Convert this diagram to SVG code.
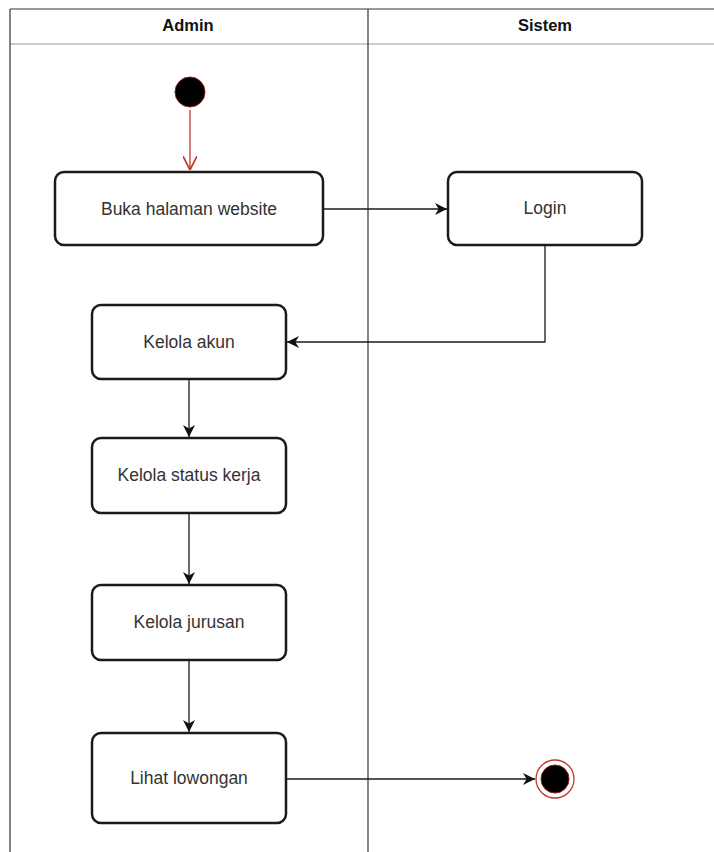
<svg xmlns="http://www.w3.org/2000/svg" width="714" height="852" viewBox="0 0 714 852">
<style>
.box{fill:#fff;stroke:#1a1a1a;stroke-width:2.5}
.lbl{font-family:"Liberation Sans",Arial,sans-serif;font-size:17.5px;fill:#333;text-anchor:middle;dominant-baseline:central}
.hdr{font-family:"Liberation Sans",Arial,sans-serif;font-size:16.5px;font-weight:bold;fill:#111;text-anchor:middle;dominant-baseline:central}
.edge{fill:none;stroke:#1a1a1a;stroke-width:1.3}
</style>
<defs>
<marker id="arr" viewBox="0 0 10 10" refX="10" refY="5" markerWidth="12" markerHeight="12" markerUnits="userSpaceOnUse" orient="auto">
<path d="M0,0 L10,5 L0,10 L3,5 Z" fill="#111"/>
</marker>
<marker id="open" viewBox="0 0 10 10" refX="10" refY="5" markerWidth="14" markerHeight="14" markerUnits="userSpaceOnUse" orient="auto">
<path d="M0,0 L10,5 L0,10" fill="none" stroke="#c0392b" stroke-width="1.2"/>
</marker>
</defs>
<rect width="714" height="852" fill="#fff"/>
<g id="pool">
<line x1="10" y1="9" x2="714" y2="9" stroke="#333" stroke-width="1.2"/>
<line x1="10" y1="44" x2="714" y2="44" stroke="#999" stroke-width="1.2"/>
<line x1="10" y1="9" x2="10" y2="852" stroke="#333" stroke-width="1.2"/>
<line x1="368" y1="9" x2="368" y2="852" stroke="#333" stroke-width="1.2"/>
<text class="hdr" x="188" y="25">Admin</text>
<text class="hdr" x="545" y="25">Sistem</text>
</g>
<g id="edges">
<line class="edge" x1="190" y1="110" x2="190" y2="170" style="stroke:#c0392b" marker-end="url(#open)"/>
<line class="edge" x1="323" y1="209" x2="447" y2="209" marker-end="url(#arr)"/>
<polyline class="edge" points="545,245 545,342 287,342" marker-end="url(#arr)"/>
<line class="edge" x1="189" y1="379" x2="189" y2="437" marker-end="url(#arr)"/>
<line class="edge" x1="189" y1="513" x2="189" y2="584" marker-end="url(#arr)"/>
<line class="edge" x1="189" y1="660" x2="189" y2="732" marker-end="url(#arr)"/>
<line class="edge" x1="286" y1="779" x2="535" y2="779" marker-end="url(#arr)"/>
</g>
<g id="start">
<circle cx="190" cy="92" r="15" fill="#000" stroke="#8b1a1a" stroke-width="1"/>
</g>
<g id="buka">
<rect class="box" x="55" y="172" width="268" height="73" rx="9"/>
<text class="lbl" x="189" y="209">Buka halaman website</text>
</g>
<g id="login">
<rect class="box" x="448" y="172" width="194" height="73" rx="9"/>
<text class="lbl" x="545" y="208">Login</text>
</g>
<g id="akun">
<rect class="box" x="92" y="305" width="194" height="74" rx="9"/>
<text class="lbl" x="189" y="342">Kelola akun</text>
</g>
<g id="status">
<rect class="box" x="92" y="438" width="194" height="75" rx="9"/>
<text class="lbl" x="189" y="475">Kelola status kerja</text>
</g>
<g id="jurusan">
<rect class="box" x="92" y="585" width="194" height="75" rx="9"/>
<text class="lbl" x="189" y="622">Kelola jurusan</text>
</g>
<g id="lihat">
<rect class="box" x="92" y="733" width="194" height="90" rx="9"/>
<text class="lbl" x="189" y="778">Lihat lowongan</text>
</g>
<g id="end">
<circle cx="555" cy="779" r="19" fill="#fff" stroke="#c0392b" stroke-width="1.3"/>
<circle cx="555" cy="779" r="14" fill="#000" stroke="#8b1a1a" stroke-width="1"/>
</g>
</svg>
